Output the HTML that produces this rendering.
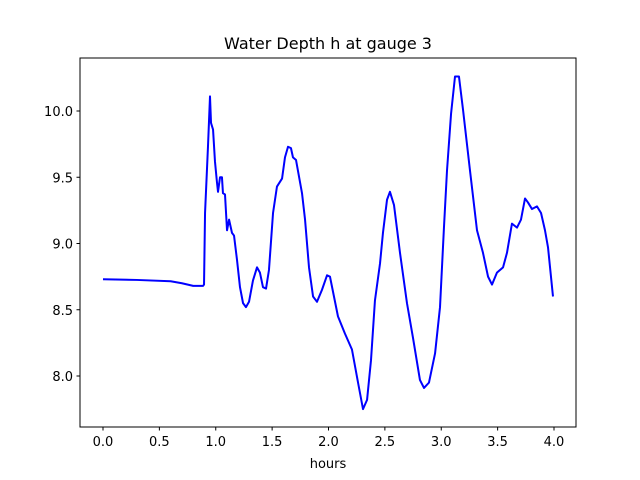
<!DOCTYPE html>
<html><head><meta charset="utf-8"><style>
body{margin:0;background:#fff}
svg{display:block;font-family:"DejaVu Sans","Liberation Sans",sans-serif}
</style></head><body>
<svg id="chart" width="640" height="480">
<rect width="640" height="480" fill="#fff"/>
<text x="328" y="49" font-size="16" text-anchor="middle">Water Depth h at gauge 3</text>
<g id="xt"></g>
<g id="yt"></g>
<polyline id="line" fill="none" stroke="#0000ff" stroke-width="2" stroke-linejoin="round"/>
<rect x="80" y="58" width="496" height="369" fill="none" stroke="#000" stroke-width="1"/>
<text x="328" y="468" font-size="13" text-anchor="middle">hours</text>
</svg>
<script>
const hours=[0,0.3,0.6,0.7,0.8,0.887,0.896,0.905,0.931,0.949,0.958,0.976,0.993,1.011,1.020,1.038,1.055,1.064,1.082,1.100,1.118,1.144,1.162,1.188,1.215,1.242,1.268,1.295,1.330,1.366,1.392,1.419,1.446,1.472,1.508,1.543,1.588,1.614,1.641,1.667,1.685,1.712,1.765,1.792,1.827,1.863,1.898,1.942,1.987,2.013,2.084,2.146,2.208,2.262,2.306,2.342,2.377,2.412,2.457,2.483,2.519,2.545,2.581,2.634,2.696,2.749,2.811,2.847,2.891,2.945,2.989,3.024,3.051,3.087,3.122,3.157,3.193,3.255,3.317,3.370,3.415,3.450,3.494,3.548,3.583,3.627,3.672,3.707,3.743,3.769,3.805,3.849,3.885,3.920,3.947,3.991];
const depth=[8.73,8.725,8.715,8.70,8.68,8.68,8.69,9.23,9.73,10.11,9.91,9.86,9.62,9.46,9.39,9.50,9.50,9.38,9.37,9.10,9.18,9.08,9.06,8.88,8.67,8.55,8.52,8.56,8.72,8.82,8.78,8.67,8.66,8.80,9.23,9.43,9.49,9.65,9.73,9.72,9.65,9.63,9.38,9.18,8.82,8.60,8.56,8.65,8.76,8.75,8.45,8.32,8.20,7.95,7.75,7.82,8.12,8.57,8.85,9.08,9.33,9.39,9.29,8.93,8.55,8.29,7.97,7.91,7.95,8.17,8.52,9.12,9.55,9.98,10.26,10.26,10.01,9.55,9.10,8.93,8.75,8.69,8.78,8.82,8.93,9.15,9.12,9.18,9.34,9.31,9.26,9.28,9.23,9.10,8.97,8.60];
const xTicks=[0,0.5,1,1.5,2,2.5,3,3.5,4];
const xLabels=["0.0","0.5","1.0","1.5","2.0","2.5","3.0","3.5","4.0"];
const yTicks=[8,8.5,9,9.5,10];
const yLabels=["8.0","8.5","9.0","9.5","10.0"];
const NS="http://www.w3.org/2000/svg";
const X=h=>103+h*112.75;
const Y=v=>111+(10-v)*132.5;
const xt=document.getElementById('xt'),yt=document.getElementById('yt');
xTicks.forEach((t,i)=>{
 const l=document.createElementNS(NS,'line');
 
 
 l.setAttribute('x1',X(t));l.setAttribute('x2',X(t));l.setAttribute('y1',427);l.setAttribute('y2',430.5);l.setAttribute('stroke','#000');
 xt.appendChild(l);
 const s=document.createElementNS(NS,'text');
 
 
 s.setAttribute('x',X(t));s.setAttribute('y',446);s.setAttribute('font-size','13');s.setAttribute('text-anchor','middle');
 s.textContent=xLabels[i];xt.appendChild(s);
});
yTicks.forEach((t,i)=>{
 const l=document.createElementNS(NS,'line');
 
 
 l.setAttribute('x1',76.5);l.setAttribute('x2',80);l.setAttribute('y1',Y(t));l.setAttribute('y2',Y(t));l.setAttribute('stroke','#000');
 yt.appendChild(l);
 const s=document.createElementNS(NS,'text');
 
 
 s.setAttribute('x',73);s.setAttribute('y',Y(t)+5);s.setAttribute('font-size','13');s.setAttribute('text-anchor','end');
 s.textContent=yLabels[i];yt.appendChild(s);
});
document.getElementById('line').setAttribute('points',hours.map((h,i)=>X(h)+','+Y(depth[i])).join(' '));
</script>
</body></html>
